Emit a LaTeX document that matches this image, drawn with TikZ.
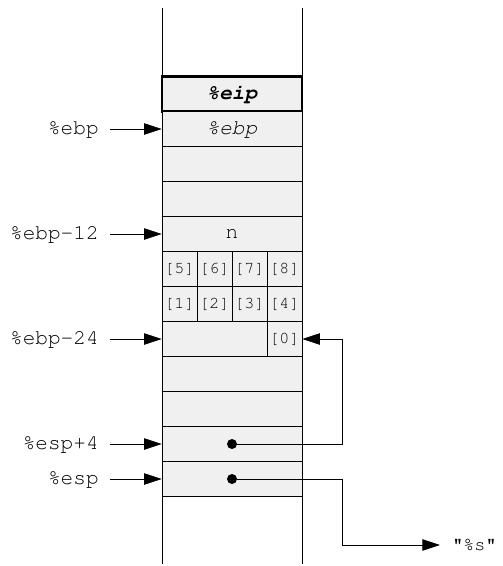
\documentclass[tikz,border=0pt]{standalone}
\usepackage[T1]{fontenc}
\renewcommand{\ttdefault}{pcr}
\usetikzlibrary{arrows.meta}
\tikzset{
  cell/.style={draw,fill=gray!12,minimum width=2.8cm,minimum height=0.7cm,inner sep=0pt,
    font=\ttfamily\fontsize{12}{14}\selectfont},
  elem/.style={cell,minimum width=0.7cm,font=\ttfamily\fontsize{9.5}{11}\selectfont},
  lbl/.style={anchor=east,inner xsep=0.22cm,inner ysep=0pt,font=\ttfamily\fontsize{12}{14}\selectfont},
  dot/.style={circle,fill,inner sep=0pt,minimum size=0.2cm}
}

\begin{document}
\begin{tikzpicture}[x=0.02cm,y=-0.02cm,>={Triangle[length=10pt,width=6.5pt]}]
  \useasboundingbox (0,0) rectangle (503,566);

  % the stack walls
  \draw (162,8) -- (162,564);
  \draw (302,8) -- (302,564);

  % frame
  \node[cell,very thick] (eip) at (232,94) {\bfseries\itshape\%eip};
  \node[cell] (ebp) at (232,129) {\itshape\%ebp};
  \node[cell] (e1) at (232,164) {};
  \node[cell] (e2) at (232,199) {};
  \node[cell] (n) at (232,234) {n};
  \node[elem] (a5) at (179.5,269) {[5]};
  \node[elem] (a6) at (214.5,269) {[6]};
  \node[elem] (a7) at (249.5,269) {[7]};
  \node[elem] (a8) at (284.5,269) {[8]};
  \node[elem] (a1) at (179.5,304) {[1]};
  \node[elem] (a2) at (214.5,304) {[2]};
  \node[elem] (a3) at (249.5,304) {[3]};
  \node[elem] (a4) at (284.5,304) {[4]};
  \node[cell,minimum width=2.1cm] (pad) at (214.5,339) {};
  \node[elem] (a0) at (284.5,339) {[0]};
  \node[cell] (e3) at (232,374) {};
  \node[cell] (e4) at (232,409) {};
  \node[cell] (arg2) at (232,444) {};
  \node[cell] (arg1) at (232,479) {};
  \node[dot] (p2) at (arg2.center) {};
  \node[dot] (p1) at (arg1.center) {};

  % register labels
  \node[lbl] (lebp) at (110,129) {\%ebp};
  \node[lbl] (lebp12) at (110,234) {\%ebp-12};
  \node[lbl] (lebp24) at (110,339) {\%ebp-24};
  \node[lbl] (lesp4) at (110,444) {\%esp+4};
  \node[lbl] (lesp) at (110,479) {\%esp};
  \node[anchor=west,inner xsep=0.24cm,font=\ttfamily\fontsize{10.5}{12}\selectfont] (fmt) at (440,545) {"\%s"};

  \draw[->] (lebp) -- (ebp);
  \draw[->] (lebp12) -- (n);
  \draw[->] (lebp24) -- (pad);
  \draw[->] (lesp4) -- (arg2);
  \draw[->] (lesp) -- (arg1);

  \draw[->] (p2) -- (342,444) -- (342,339) -- (a0);
  \draw[->] (p1) -- (342,479) -- (342,545) -- (fmt);
\end{tikzpicture}
\end{document}
